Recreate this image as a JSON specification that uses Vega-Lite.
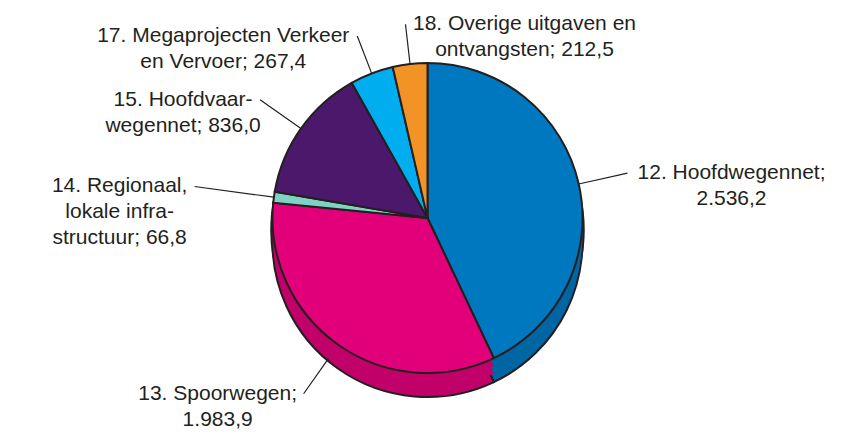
{
  "$schema": "https://vega.github.io/schema/vega-lite/v6.json",
  "width": 855,
  "height": 436,
  "autosize": {"type": "none"},
  "padding": 0,
  "background": "white",
  "config": {"view": {"stroke": null}},
  "data": {
    "values": [
      {"nr": 12, "label": "12. Hoofdwegennet;\n2.536,2", "value": 2536.2},
      {"nr": 13, "label": "13. Spoorwegen;\n1.983,9", "value": 1983.9},
      {"nr": 14, "label": "14. Regionaal,\nlokale infra-\nstructuur; 66,8", "value": 66.8},
      {"nr": 15, "label": "15. Hoofdvaar-\nwegennet; 836,0", "value": 836.0},
      {"nr": 17, "label": "17. Megaprojecten Verkeer\nen Vervoer; 267,4", "value": 267.4},
      {"nr": 18, "label": "18. Overige uitgaven en\nontvangsten; 212,5", "value": 212.5}
    ]
  },
  "encoding": {
    "theta": {"field": "value", "type": "quantitative", "stack": true},
    "order": {"field": "nr", "type": "quantitative"}
  },
  "layer": [
    {
      "mark": {"type": "arc", "radius": 155, "yOffset": 12, "stroke": "#231F20", "strokeWidth": 4.5},
      "encoding": {"fill": {"field": "nr", "type": "nominal", "scale": {"domain": [12, 13, 14, 15, 17, 18], "range": ["#0066A3", "#C10069", "#6CB8AB", "#3C1258", "#0094CC", "#D07D1F"]}, "legend": null}}
    },
    {
      "mark": {"type": "arc", "radius": 155, "yOffset": 24, "stroke": "#231F20", "strokeWidth": 2},
      "encoding": {"fill": {"field": "nr", "type": "nominal", "legend": null}}
    },
    {
      "mark": {"type": "arc", "radius": 155, "yOffset": 16, "strokeWidth": 0},
      "encoding": {"fill": {"field": "nr", "type": "nominal", "legend": null}}
    },
    {
      "mark": {"type": "arc", "radius": 155, "yOffset": 8, "strokeWidth": 0},
      "encoding": {"fill": {"field": "nr", "type": "nominal", "legend": null}}
    },
    {
      "mark": {"type": "arc", "radius": 155, "stroke": "#231F20", "strokeWidth": 2},
      "encoding": {"color": {"field": "nr", "type": "nominal", "scale": {"domain": [12, 13, 14, 15, 17, 18], "range": ["#0078BF", "#E2007A", "#7FD3C4", "#4B186C", "#00AEEF", "#F39325"]}, "legend": null}}
    },
    {
      "mark": {"type": "arc", "radius": 205, "radius2": 155, "padAngle": 3.14, "stroke": "#231F20", "strokeWidth": 1.2, "fillOpacity": 0},
      "encoding": {"strokeOpacity": {"condition": {"test": "datum.nr === 12", "value": 1}, "value": 0}}
    },
    {
      "mark": {"type": "arc", "radius": 215, "radius2": 172, "padAngle": 3.14, "stroke": "#231F20", "strokeWidth": 1.2, "fillOpacity": 0},
      "encoding": {"strokeOpacity": {"condition": {"test": "datum.nr === 13", "value": 1}, "value": 0}}
    },
    {
      "mark": {"type": "arc", "radius": 235, "radius2": 155, "padAngle": 3.14, "stroke": "#231F20", "strokeWidth": 1.2, "fillOpacity": 0},
      "encoding": {"strokeOpacity": {"condition": {"test": "datum.nr === 14", "value": 1}, "value": 0}}
    },
    {
      "mark": {"type": "arc", "radius": 205, "radius2": 155, "padAngle": 3.14, "stroke": "#231F20", "strokeWidth": 1.2, "fillOpacity": 0},
      "encoding": {"strokeOpacity": {"condition": {"test": "datum.nr === 15", "value": 1}, "value": 0}}
    },
    {
      "mark": {"type": "arc", "radius": 195, "radius2": 155, "padAngle": 3.14, "stroke": "#231F20", "strokeWidth": 1.2, "fillOpacity": 0},
      "encoding": {"strokeOpacity": {"condition": {"test": "datum.nr === 17", "value": 1}, "value": 0}}
    },
    {
      "mark": {"type": "arc", "radius": 195, "radius2": 155, "padAngle": 3.14, "stroke": "#231F20", "strokeWidth": 1.2, "fillOpacity": 0},
      "encoding": {"strokeOpacity": {"condition": {"test": "datum.nr === 18", "value": 1}, "value": 0}}
    },
    {
      "mark": {"type": "text", "radius": 205, "dx": 104, "dy": 0, "align": "center", "baseline": "middle", "font": "Liberation Sans", "fontSize": 21, "lineHeight": 26, "lineBreak": "\n", "color": "#231F20"},
      "encoding": {"text": {"condition": {"test": "datum.nr === 12", "field": "label", "type": "nominal"}, "value": ""}}
    },
    {
      "mark": {"type": "text", "radius": 215, "dx": -86, "dy": 0, "align": "center", "baseline": "middle", "font": "Liberation Sans", "fontSize": 21, "lineHeight": 26, "lineBreak": "\n", "color": "#231F20"},
      "encoding": {"text": {"condition": {"test": "datum.nr === 13", "field": "label", "type": "nominal"}, "value": ""}}
    },
    {
      "mark": {"type": "text", "radius": 235, "dx": -75, "dy": 0, "align": "center", "baseline": "middle", "font": "Liberation Sans", "fontSize": 21, "lineHeight": 26, "lineBreak": "\n", "color": "#231F20"},
      "encoding": {"text": {"condition": {"test": "datum.nr === 14", "field": "label", "type": "nominal"}, "value": ""}}
    },
    {
      "mark": {"type": "text", "radius": 205, "dx": -77, "dy": 0, "align": "center", "baseline": "middle", "font": "Liberation Sans", "fontSize": 21, "lineHeight": 26, "lineBreak": "\n", "color": "#231F20"},
      "encoding": {"text": {"condition": {"test": "datum.nr === 15", "field": "label", "type": "nominal"}, "value": ""}}
    },
    {
      "mark": {"type": "text", "radius": 195, "dx": -134, "dy": 0, "align": "center", "baseline": "middle", "font": "Liberation Sans", "fontSize": 21, "lineHeight": 26, "lineBreak": "\n", "color": "#231F20"},
      "encoding": {"text": {"condition": {"test": "datum.nr === 17", "field": "label", "type": "nominal"}, "value": ""}}
    },
    {
      "mark": {"type": "text", "radius": 195, "dx": 119, "dy": 0, "align": "center", "baseline": "middle", "font": "Liberation Sans", "fontSize": 21, "lineHeight": 26, "lineBreak": "\n", "color": "#231F20"},
      "encoding": {"text": {"condition": {"test": "datum.nr === 18", "field": "label", "type": "nominal"}, "value": ""}}
    }
  ]
}
